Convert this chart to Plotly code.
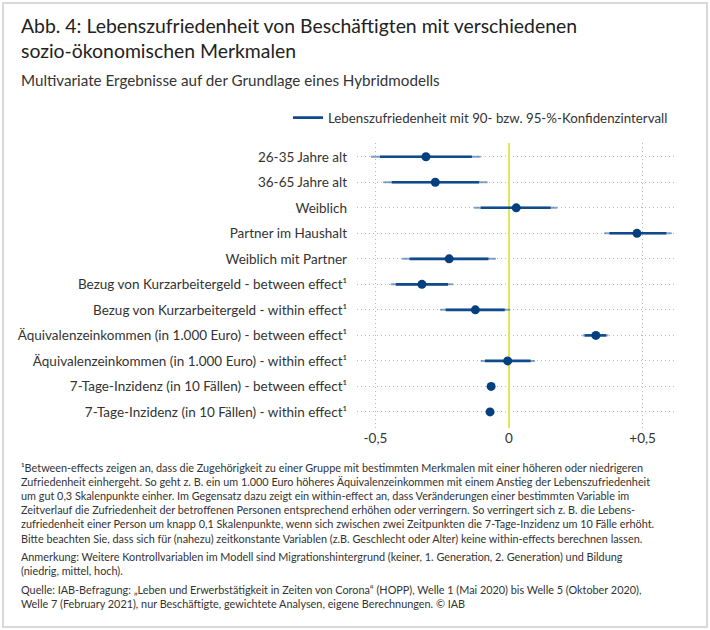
import plotly.graph_objects as go

categories = [
    "26-35 Jahre alt",
    "36-65 Jahre alt",
    "Weiblich",
    "Partner im Haushalt",
    "Weiblich mit Partner",
    "Bezug von Kurzarbeitergeld - between effect¹",
    "Bezug von Kurzarbeitergeld - within effect¹",
    "Äquivalenzeinkommen (in 1.000 Euro) - between effect¹",
    "Äquivalenzeinkommen (in 1.000 Euro) - within effect¹",
    "7-Tage-Inzidenz (in 10 Fällen) - between effect¹",
    "7-Tage-Inzidenz (in 10 Fällen) - within effect¹",
]
estimate = [-0.311, -0.276, 0.027, 0.479, -0.224, -0.326, -0.126, 0.325, -0.005, -0.067, -0.071]
lo95 = [-0.517, -0.471, -0.131, 0.356, -0.401, -0.443, -0.258, 0.275, -0.106, -0.075, -0.079]
hi95 = [-0.106, -0.080, 0.181, 0.609, -0.049, -0.209, 0.005, 0.372, 0.097, -0.059, -0.063]
lo90 = [-0.483, -0.439, -0.106, 0.376, -0.372, -0.424, -0.237, 0.283, -0.090, -0.073, -0.077]
hi90 = [-0.139, -0.112, 0.156, 0.589, -0.077, -0.228, -0.016, 0.364, 0.081, -0.061, -0.065]

x_tickvals = [-0.5, 0, 0.5]
x_ticktext = ["-0,5", "0", "+0,5"]

title_text = "Abb. 4: Lebenszufriedenheit von Beschäftigten mit verschiedenen<br>sozio-ökonomischen Merkmalen"
subtitle_text = "Multivariate Ergebnisse auf der Grundlage eines Hybridmodells"
legend_text = "Lebenszufriedenheit mit 90- bzw. 95-%-Konfidenzintervall"
footnote_lines = [
    "¹Between-effects zeigen an, dass die Zugehörigkeit zu einer Gruppe mit bestimmten Merkmalen mit einer höheren oder niedrigeren",
    "Zufriedenheit einhergeht. So geht z. B. ein um 1.000 Euro höheres Äquivalenzeinkommen mit einem Anstieg der Lebenszufriedenheit",
    "um gut 0,3 Skalenpunkte einher. Im Gegensatz dazu zeigt ein within-effect an, dass Veränderungen einer bestimmten Variable im",
    "Zeitverlauf die Zufriedenheit der betroffenen Personen entsprechend erhöhen oder verringern. So verringert sich z. B. die Lebens-",
    "zufriedenheit einer Person um knapp 0,1 Skalenpunkte, wenn sich zwischen zwei Zeitpunkten die 7-Tage-Inzidenz um 10 Fälle erhöht.",
    "Bitte beachten Sie, dass sich für (nahezu) zeitkonstante Variablen (z.B. Geschlecht oder Alter) keine within-effects berechnen lassen.",
]
note_lines = [
    "Anmerkung: Weitere Kontrollvariablen im Modell sind Migrationshintergrund (keiner, 1. Generation, 2. Generation) und Bildung",
    "(niedrig, mittel, hoch).",
]
source_lines = [
    "Quelle: IAB-Befragung: „Leben und Erwerbstätigkeit in Zeiten von Corona“ (HOPP), Welle 1 (Mai 2020) bis Welle 5 (Oktober 2020),",
    "Welle 7 (February 2021), nur Beschäftigte, gewichtete Analysen, eigene Berechnungen. © IAB",
]

FONT = "Lato"
W, H = 710, 630
LINE = "#0e4a8c"
DOT = "#043f80"
GRID = "#b8b8b8"

ypos = list(range(len(categories)))

def segs(lo, hi):
    xs, ys = [], []
    for a, b, y in zip(lo, hi, ypos):
        xs += [a, b, None]
        ys += [y, y, None]
    return xs, ys

x95, y95 = segs(lo95, hi95)
x90, y90 = segs(lo90, hi90)

fig = go.Figure()
fig.add_trace(go.Scatter(x=x95, y=y95, mode="lines",
                         line=dict(color="rgba(14,74,140,0.5)", width=2),
                         showlegend=False, hoverinfo="skip"))
fig.add_trace(go.Scatter(x=x90, y=y90, mode="lines",
                         line=dict(color=LINE, width=2.6),
                         name=legend_text, showlegend=True, hoverinfo="skip"))
fig.add_trace(go.Scatter(x=estimate, y=ypos, mode="markers",
                         marker=dict(color=DOT, size=9),
                         showlegend=False))

px = lambda v: v / W
py = lambda v: 1 - v / H

fig.update_layout(
    width=W, height=H,
    margin=dict(l=0, r=0, t=0, b=0),
    paper_bgcolor="white", plot_bgcolor="white",
    font=dict(family=FONT, color="#333333", size=13.5),
    xaxis=dict(domain=[px(357), px(676)], range=[-0.569, 0.625],
               tickvals=x_tickvals, ticktext=x_ticktext,
               showgrid=True, gridcolor=GRID, griddash="1px,3px", gridwidth=1,
               zeroline=True, zerolinecolor="#e4e45a", zerolinewidth=1.5,
               showline=False, ticks="", tickfont=dict(size=13.5, color="#333333"),
               fixedrange=True),
    yaxis=dict(domain=[py(428), py(143)], range=[10.63, -0.54],
               tickvals=ypos, ticktext=categories,
               showgrid=True, gridcolor=GRID, griddash="1px,3px", gridwidth=1,
               zeroline=False, showline=False, ticks="",
               ticklabelstandoff=9,
               tickfont=dict(size=13.5, color="#333333"), fixedrange=True),
    legend=dict(x=px(288), y=py(118), xanchor="left", yanchor="middle",
                font=dict(size=13.3, color="#333333"), bgcolor="rgba(0,0,0,0)"),
    showlegend=True,
)

annotations = [
    dict(text=title_text, x=px(19), y=py(12), xanchor="left", yanchor="top",
         align="left", font=dict(size=19.4, color="#222222")),
    dict(text=subtitle_text, x=px(19), y=py(80), xanchor="left", yanchor="middle",
         align="left", font=dict(size=15.2, color="#333333")),
    dict(text="<br>".join(footnote_lines), x=px(19), y=py(459), xanchor="left", yanchor="top",
         align="left", font=dict(size=10.85, color="#333333")),
    dict(text="<br>".join(note_lines), x=px(19), y=py(548), xanchor="left", yanchor="top",
         align="left", font=dict(size=10.85, color="#333333")),
    dict(text="<br>".join(source_lines), x=px(19), y=py(581), xanchor="left", yanchor="top",
         align="left", font=dict(size=10.85, color="#333333")),
]
for a in annotations:
    a.update(xref="paper", yref="paper", showarrow=False)
fig.update_layout(annotations=annotations)

fig.add_shape(type="rect", xref="paper", yref="paper",
              x0=px(3), x1=px(707), y0=py(627), y1=py(3),
              line=dict(color="#d9d9d9", width=2), fillcolor="rgba(0,0,0,0)", layer="below")

fig.write_html("out.html", config={"displayModeBar": False},
               post_script="document.body.style.margin='0px';document.body.style.overflow='hidden';")
